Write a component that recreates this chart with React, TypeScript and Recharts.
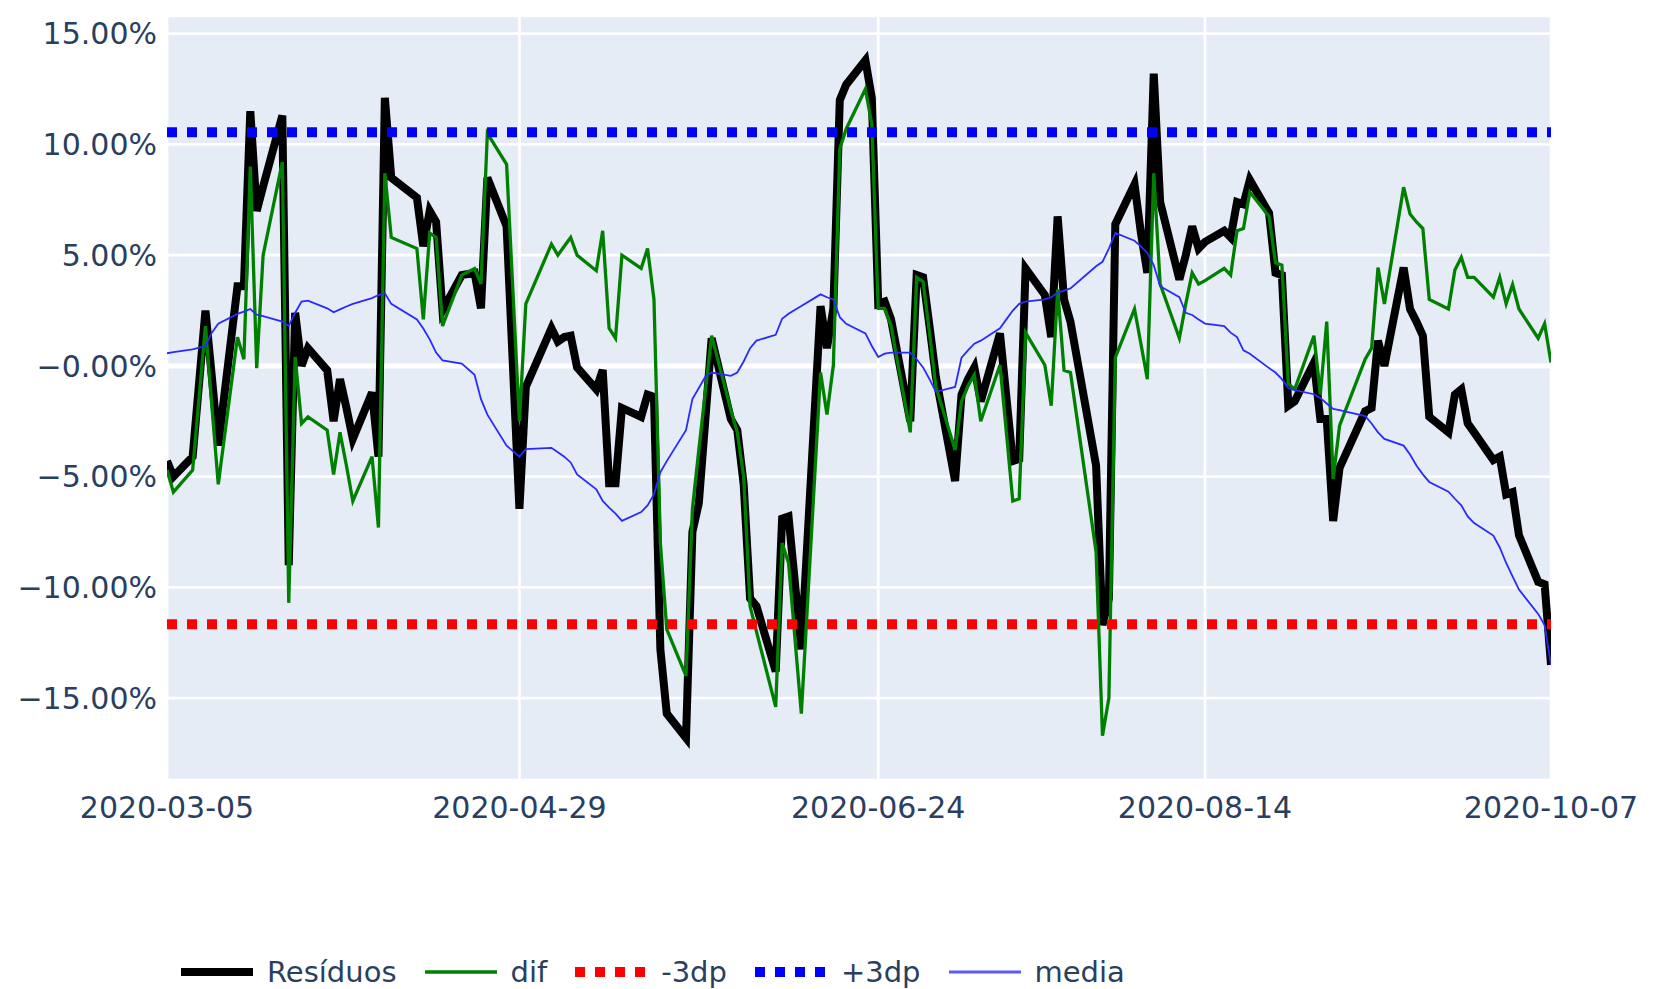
import React from 'react';
import { LineChart, Line, XAxis, YAxis, CartesianGrid, Legend, ReferenceLine } from 'recharts';

const dates: string[] = [
  '2020-03-05', '2020-03-06', '2020-03-09', '2020-03-11', '2020-03-12', '2020-03-13',
  '2020-03-16', '2020-03-17', '2020-03-18', '2020-03-19', '2020-03-20',
  '2020-03-23', '2020-03-24', '2020-03-25', '2020-03-26', '2020-03-27',
  '2020-03-30', '2020-03-31', '2020-04-01', '2020-04-02', '2020-04-03',
  '2020-04-06', '2020-04-07', '2020-04-08', '2020-04-09',
  '2020-04-13', '2020-04-14', '2020-04-15', '2020-04-16', '2020-04-17',
  '2020-04-20', '2020-04-22', '2020-04-23', '2020-04-24',
  '2020-04-27', '2020-04-29', '2020-04-30',
  '2020-05-04', '2020-05-05', '2020-05-06', '2020-05-07', '2020-05-08',
  '2020-05-11', '2020-05-12', '2020-05-13', '2020-05-14', '2020-05-15',
  '2020-05-18', '2020-05-19', '2020-05-20', '2020-05-21', '2020-05-22',
  '2020-05-25', '2020-05-26', '2020-05-27', '2020-05-28', '2020-05-29',
  '2020-06-01', '2020-06-02', '2020-06-03', '2020-06-04', '2020-06-05',
  '2020-06-08', '2020-06-09', '2020-06-10', '2020-06-12',
  '2020-06-15', '2020-06-16', '2020-06-17', '2020-06-18', '2020-06-19',
  '2020-06-22', '2020-06-23', '2020-06-24', '2020-06-25', '2020-06-26',
  '2020-06-29', '2020-06-30', '2020-07-01', '2020-07-02', '2020-07-03',
  '2020-07-06', '2020-07-07', '2020-07-08', '2020-07-09', '2020-07-10',
  '2020-07-13', '2020-07-14', '2020-07-15', '2020-07-16', '2020-07-17',
  '2020-07-20', '2020-07-21', '2020-07-22', '2020-07-23', '2020-07-24',
  '2020-07-28', '2020-07-29', '2020-07-30', '2020-07-31',
  '2020-08-03', '2020-08-04', '2020-08-05', '2020-08-06', '2020-08-07',
  '2020-08-10', '2020-08-11', '2020-08-12', '2020-08-13', '2020-08-14',
  '2020-08-17', '2020-08-18', '2020-08-19', '2020-08-20', '2020-08-21',
  '2020-08-24', '2020-08-25', '2020-08-26', '2020-08-27', '2020-08-28',
  '2020-08-31', '2020-09-01', '2020-09-02', '2020-09-03', '2020-09-04',
  '2020-09-08', '2020-09-09', '2020-09-10', '2020-09-11',
  '2020-09-14', '2020-09-15', '2020-09-16', '2020-09-17', '2020-09-18',
  '2020-09-21', '2020-09-22', '2020-09-23', '2020-09-24', '2020-09-25',
  '2020-09-28', '2020-09-29', '2020-09-30', '2020-10-01', '2020-10-02',
  '2020-10-05', '2020-10-06', '2020-10-07',
];

// Resíduos (%)
const residuos: number[] = [
  -4.3, -5.0, -4.1, 2.5, -0.5, -3.6,
  3.6, 3.6, 11.5, 7.0, 8.1,
  11.3, -9.0, 2.4, 0.0, 0.8,
  -0.2, -2.5, -0.6, -1.9, -3.3,
  -1.2, -4.1, 12.1, 8.5,
  7.6, 5.4, 7.0, 6.5, 2.5,
  4.1, 4.2, 2.6, 8.5,
  6.3, -6.45, -0.95,
  1.7, 1.1, 1.3, 1.36, -0.07,
  -1.06, -0.18, -5.3, -5.3, -1.9,
  -2.3, -1.3, -1.4, -12.8, -15.7,
  -16.8, -7.5, -6.2, -2.5, 1.25,
  -2.4, -2.9, -5.35, -10.5, -10.85,
  -13.8, -6.9, -6.8, -12.8,
  2.7, 0.8, 2.6, 12.0, 12.7,
  13.8, 12.1, 2.8, 2.9, 2.1,
  -2.5, 4.1, 4.0, 1.8, -0.5,
  -5.2, -1.3, -0.6, -0.07, -1.6,
  1.47, -1.4, -4.3, -4.2, 4.4,
  3.2, 1.3, 6.75, 3.0, 2.0,
  -4.5, -11.7, -10.5, 6.4,
  8.2, 6.0, 4.2, 13.2, 7.4,
  3.9, 5.0, 6.3, 5.3, 5.6,
  6.1, 5.8, 7.4, 7.3, 8.4,
  6.9, 4.2, 4.1, -1.8, -1.6,
  0.15, -2.4, -2.4, -7.0, -4.6,
  -2.05, -1.9, 1.14, 0.0,
  4.44, 2.57, 2.0, 1.36, -2.3,
  -3.0, -1.3, -1.06, -2.6, -3.0,
  -4.25, -4.1, -5.8, -5.7, -7.65,
  -9.75, -9.86, -13.5,
];

// dif (%)
const dif: number[] = [
  -4.7, -5.7, -4.7, 1.8, -1.8, -5.35,
  1.3, 0.3, 9.0, -0.1, 5.0,
  9.2, -10.7, 0.4, -2.6, -2.3,
  -2.9, -4.9, -3.0, -4.5, -6.1,
  -4.1, -7.3, 8.7, 5.8,
  5.3, 2.1, 6.0, 5.8, 1.8,
  4.1, 4.4, 3.7, 10.5,
  9.1, -2.5, 2.8,
  5.5, 5.0, 5.4, 5.8, 5.0,
  4.3, 6.1, 1.7, 1.25, 5.0,
  4.4, 5.3, 3.0, -8.0, -11.9,
  -14.0, -6.45, -3.8, -1.2, 1.36,
  -2.0, -3.0, -5.0, -10.85, -12.0,
  -15.4, -8.0, -8.9, -15.7,
  -0.3, -2.2, 0.04, 9.8, 10.7,
  12.5, 10.9, 2.6, 2.6, 1.8,
  -3.0, 4.0, 3.8, 1.5, -0.95,
  -3.8, -1.6, -0.9, -0.4, -2.5,
  0.04, -3.0, -6.1, -6.0, 1.5,
  0.04, -1.8, 3.45, -0.2, -0.3,
  -8.4, -16.7, -15.0, 0.37,
  2.57, 1.0, -0.6, 8.7, 3.7,
  1.25, 2.8, 4.2, 3.7, 3.85,
  4.4, 4.1, 6.1, 6.2, 7.85,
  6.75, 4.66, 4.55, -0.8, -1.06,
  1.36, -1.3, 2.0, -5.1, -2.7,
  0.3, 0.8, 4.44, 2.8,
  8.07, 6.86, 6.5, 6.2, 3.0,
  2.57, 4.33, 4.9, 4.0, 4.0,
  3.1, 4.0, 2.8, 3.67, 2.57,
  1.25, 1.9, 0.15,
];

// media (%)
const media: number[] = [
  0.57, 0.62, 0.75, 0.9, 1.5, 1.9,
  2.35, 2.45, 2.57, 2.31, 2.25,
  2.0, 1.8, 2.4, 2.9, 2.95,
  2.6, 2.42, 2.55, 2.68, 2.8,
  3.06, 3.2, 3.28, 2.8,
  2.1, 1.69, 1.2, 0.6, 0.25,
  0.1, -0.4, -1.5, -2.2,
  -3.6, -4.1, -3.76,
  -3.7, -3.9, -4.1, -4.36, -4.9,
  -5.57, -6.1, -6.4, -6.67, -7.0,
  -6.6, -6.3, -5.8, -4.8, -4.3,
  -2.9, -1.5, -1.0, -0.5, -0.3,
  -0.45, -0.3, 0.2, 0.8, 1.14,
  1.4, 2.13, 2.35, 2.7,
  3.23, 3.1, 3.0, 2.2, 1.9,
  1.47, 0.9, 0.4, 0.55, 0.6,
  0.6, 0.3, -0.07, -0.6, -1.17,
  -0.95, 0.37, 0.7, 1.0, 1.14,
  1.7, 2.1, 2.5, 2.8, 2.9,
  3.0, 3.1, 3.3, 3.4, 3.5,
  4.5, 4.7, 5.3, 6.0,
  5.65, 5.4, 5.1, 4.55, 3.6,
  3.1, 2.4, 2.3, 2.1, 1.91,
  1.8, 1.5, 1.3, 0.7, 0.55,
  -0.1, -0.3, -0.6, -1.0, -1.1,
  -1.28, -1.45, -1.7, -1.94, -2.0,
  -2.27, -2.6, -3.0, -3.3,
  -3.6, -4.0, -4.5, -4.9, -5.24,
  -5.68, -6.0, -6.3, -6.8, -7.1,
  -7.66, -8.2, -8.9, -9.5, -10.1,
  -11.2, -11.7, -13.5,
];

const limiteSuperior = 10.55; // +3dp
const limiteInferior = -11.67; // -3dp

const xTickLabels: string[] = ['2020-03-05', '2020-04-29', '2020-06-24', '2020-08-14', '2020-10-07'];
const yTicks: number[] = [-15, -10, -5, 0, 5, 10, 15];

const toTime = (s: string) => Date.parse(s + 'T00:00:00Z');
const xTicks = xTickLabels.map(toTime);

const data = dates.map((d, i) => ({
  t: toTime(d),
  residuos: residuos[i],
  dif: dif[i],
  inf: limiteInferior,
  sup: limiteSuperior,
  media: media[i],
}));

const fmtDate = (v: number) => new Date(v).toISOString().slice(0, 10);
const fmtPct = (v: number) =>
  v === 0 ? '\u22120.00%' : v < 0 ? '\u2212' + Math.abs(v).toFixed(2) + '%' : v.toFixed(2) + '%';

const FONT = 'DejaVu Sans';
const TEXT = '#2a3f5f';

const legendItems = [
  { label: 'Resíduos', color: '#000000', width: 8, dash: undefined as string | undefined },
  { label: 'dif', color: '#008000', width: 3.3, dash: undefined as string | undefined },
  { label: '-3dp', color: '#ff0000', width: 10, dash: '10 10' },
  { label: '+3dp', color: '#0000ff', width: 10, dash: '10 10' },
  { label: 'media', color: '#5a5aff', width: 3, dash: undefined as string | undefined },
];

const renderLegend = () => (
  <div
    style={{
      display: 'flex',
      alignItems: 'center',
      height: 30,
      paddingLeft: 173,
      fontFamily: FONT,
      fontSize: 29,
      color: TEXT,
      lineHeight: '30px',
    }}
  >
    {legendItems.map((it) => (
      <div key={it.label} style={{ display: 'flex', alignItems: 'center', marginRight: 28 }}>
        <svg width={72} height={30} style={{ display: 'block' }}>
          <line
            x1={0}
            y1={15}
            x2={72}
            y2={15}
            stroke={it.color}
            strokeWidth={it.width}
            strokeDasharray={it.dash}
          />
        </svg>
        <span style={{ marginLeft: 14, whiteSpace: 'nowrap' }}>{it.label}</span>
      </div>
    ))}
  </div>
);

export default function App() {
  return (
    <div style={{ width: 1655, height: 981 }}>
      <LineChart
        width={1655}
        height={981}
        data={data}
        margin={{ top: 8, right: 112, bottom: 2, left: 0 }}
      >
        <CartesianGrid fill="#E5ECF6" stroke="#ffffff" strokeWidth={2.7} />
        <XAxis
          dataKey="t"
          type="number"
          domain={[xTicks[0], xTicks[xTicks.length - 1]]}
          ticks={xTicks}
          tickFormatter={fmtDate}
          interval={0}
          allowDataOverflow
          axisLine={false}
          tickLine={false}
          tickSize={0}
          tickMargin={17}
          height={177}
          tick={{ fill: TEXT, fontSize: 30, fontFamily: FONT }}
        />
        <YAxis
          type="number"
          domain={[-18.7, 15.8]}
          ticks={yTicks}
          tickFormatter={fmtPct}
          interval={0}
          allowDataOverflow
          axisLine={false}
          tickLine={false}
          tickSize={0}
          tickMargin={10}
          width={159}
          tick={{ fill: TEXT, fontSize: 30, fontFamily: FONT }}
        />
        <ReferenceLine y={0} stroke="#ffffff" strokeWidth={5} />
        <Legend verticalAlign="bottom" align="left" height={30} content={renderLegend} />
        <Line type="linear" dataKey="residuos" name="Resíduos" stroke="#000000" strokeWidth={8} dot={false} activeDot={false} isAnimationActive={false} />
        <Line type="linear" dataKey="dif" name="dif" stroke="#008000" strokeWidth={3.3} dot={false} activeDot={false} isAnimationActive={false} />
        <Line type="linear" dataKey="inf" name="-3dp" stroke="#ff0000" strokeWidth={10} strokeDasharray="10 10" dot={false} activeDot={false} isAnimationActive={false} />
        <Line type="linear" dataKey="sup" name="+3dp" stroke="#0000ff" strokeWidth={10} strokeDasharray="10 10" dot={false} activeDot={false} isAnimationActive={false} />
        <Line type="linear" dataKey="media" name="media" stroke="#2a2aff" strokeWidth={1.8} dot={false} activeDot={false} isAnimationActive={false} />
      </LineChart>
    </div>
  );
}
